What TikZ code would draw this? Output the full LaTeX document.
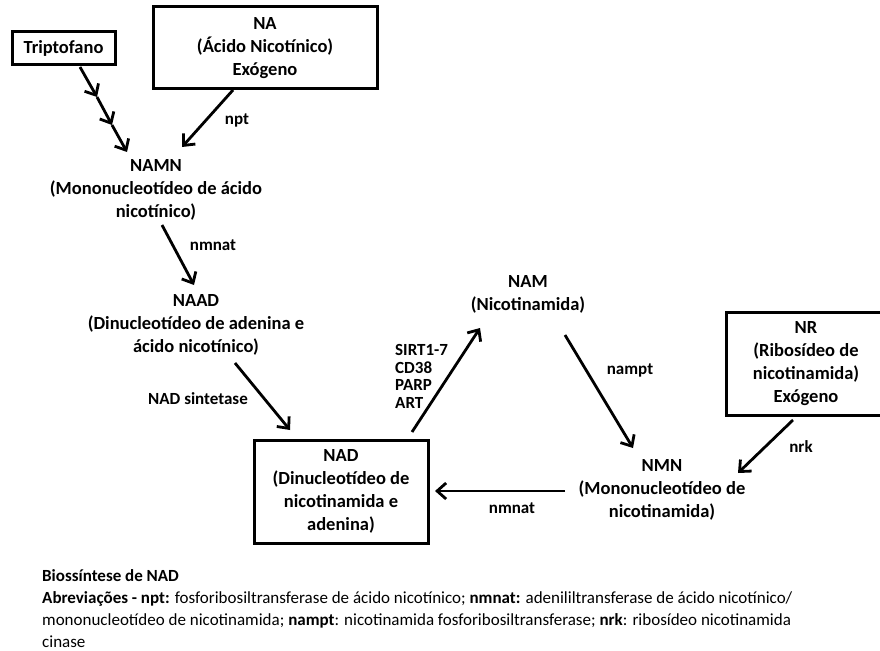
\documentclass[tikz,border=0pt]{standalone}
\usepackage{fontspec}
\setmainfont{Carlito}
\usetikzlibrary{arrows.meta}
\begin{document}
\begin{tikzpicture}[x=1pt,y=-1pt,
  lbl/.style={font=\bfseries\fontsize{18.5}{22.8}\selectfont, align=center, inner sep=0pt},
  enz/.style={font=\bfseries\fontsize{17}{18}\selectfont, inner sep=0pt},
  frame/.style={draw, line width=3pt},
  flow/.style={line width=2.8pt, -{Straight Barb[length=9pt,width=16pt,line width=2.8pt]}}]
\useasboundingbox (0,0) rectangle (880,650);

% source boxes
\node[frame, minimum width=103pt, minimum height=33pt, lbl] (trp) at (63.5,48.5) {Triptofano};
\node[frame, minimum width=224pt, minimum height=82pt, lbl] (na) at (265,48) {NA\\(Ácido Nicotínico)\\Exógeno};
\node[frame, minimum width=160pt, minimum height=103pt, lbl] (nr) at (806,363.5) {NR\\(Ribosídeo de\\nicotinamida)\\Exógeno};
\node[frame, minimum width=174pt, minimum height=103pt, lbl] (nad) at (341,491.5) {NAD\\(Dinucleotídeo de\\nicotinamida e\\adenina)};

% intermediates
\node[lbl] (namn) at (156,190) {NAMN\\(Mononucleotídeo de ácido\\nicotínico)};
\node[lbl] (naad) at (196,325) {NAAD\\(Dinucleotídeo de adenina e\\ácido nicotínico)};
\node[lbl] (nam) at (528,294) {NAM\\(Nicotinamida)};
\node[lbl] (nmn) at (662,490) {NMN\\(Mononucleotídeo de\\nicotinamida)};

% connector end points
\coordinate (t0) at (80,67);
\coordinate (t1) at (97,97);
\coordinate (t2) at (112,125);
\coordinate (t3) at (127,152);
\coordinate (naS) at (233,90);
\coordinate (namnE) at (182,147);
\coordinate (namnS) at (162,225);
\coordinate (naadE) at (194,285);
\coordinate (naadS) at (235,363);
\coordinate (nadE) at (290,430);
\coordinate (nadS) at (412,432);
\coordinate (namE) at (480,328);
\coordinate (namS) at (565,335);
\coordinate (nmnE) at (633,448);
\coordinate (nrS) at (793,420);
\coordinate (nmnE2) at (738,473);
\coordinate (nmnS) at (565,491);
\coordinate (nadE2) at (435,491);

% pathways
\draw[flow] (t0) -- (t1);
\draw[flow] (t1) -- (t2);
\draw[flow] (t2) -- (t3);
\draw[flow] (naS) -- (namnE);
\draw[flow] (namnS) -- (naadE);
\draw[flow] (naadS) -- (nadE);
\draw[flow] (nadS) -- (namE);
\draw[flow] (namS) -- (nmnE);
\draw[flow] (nrS) -- (nmnE2);
\draw[flow] (nmnS) -- (nadE2);

% enzyme labels
\node[enz] (e1) at (237,120) {npt};
\node[enz] (e2) at (213,245) {nmnat};
\node[enz] (e3) at (198,399) {NAD sintetase};
\node[enz, align=left, anchor=west, font=\bfseries\fontsize{17}{17.7}\selectfont] (e4) at (395,376.5) {SIRT1-7\\CD38\\PARP\\ART};
\node[enz] (e5) at (630,370) {nampt};
\node[enz] (e6) at (801,447) {nrk};
\node[enz] (e7) at (512,508) {nmnat};

% caption
\node[anchor=north west, align=left, inner sep=0pt, font=\fontsize{17}{22}\selectfont] (cap) at (42,569)
{\textbf{Biossíntese de NAD}\\
\textbf{Abreviações - npt:} fosforibosiltransferase  de ácido nicotínico; \textbf{nmnat:} adenililtransferase de ácido nicotínico/\\
mononucleotídeo de nicotinamida; \textbf{nampt}: nicotinamida fosforibosiltransferase;  \textbf{nrk}: ribosídeo nicotinamida\\
cinase};
\end{tikzpicture}
\end{document}
